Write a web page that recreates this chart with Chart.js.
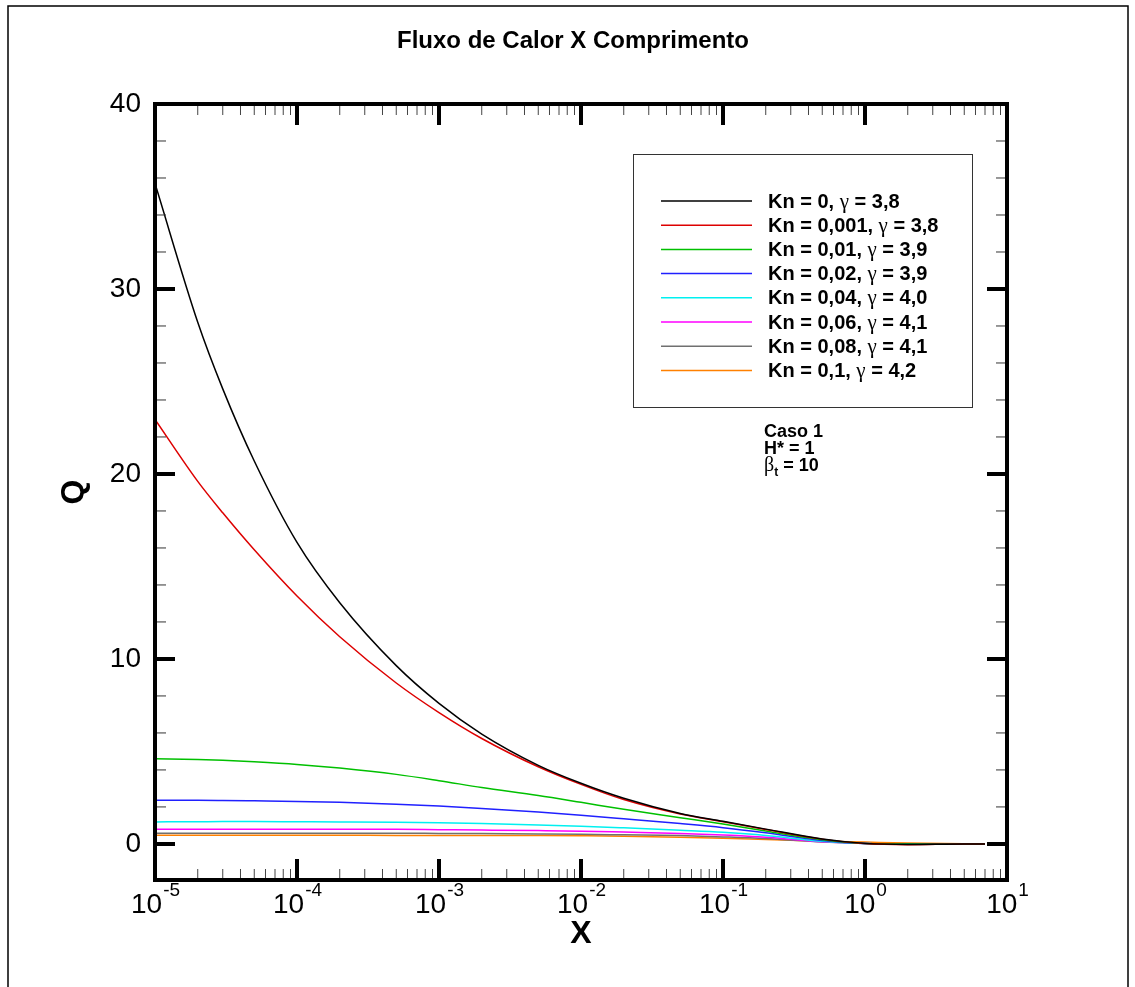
<!DOCTYPE html>
<html>
<head>
<meta charset="utf-8">
<script src="https://cdn.jsdelivr.net/npm/chart.js@4.4.1/dist/chart.umd.min.js"></script>
<style>
body{margin:0;background:#fff;}
#wrap{width:1135px;height:987px;}
</style>
</head>
<body>
<div id="wrap"><canvas id="chart" width="1135" height="987"></canvas></div>
<script>
// X positions (comprimento) where the curves were read
let xValues = [1e-5,2e-5,3e-5,5e-5,1e-4,2e-4,5e-4,1e-3,2e-3,5e-3,1e-2,2e-2,5e-2,0.1,0.2,0.5,1,2,5,7];

// Q for each Kn
let qKn0    = [35.7,28.2,24.6,20.7,16.3,13.04,9.64,7.6,5.94,4.25,3.28,2.47,1.65,1.22,0.8,0.27,0.03,-0.03,0,0];
let qKn0001 = [22.95,19.6,17.9,15.9,13.4,11.2,8.7,7.1,5.7,4.17,3.22,2.4,1.62,1.2,0.78,0.26,0.02,-0.04,0,0];
let qKn001  = [4.6,4.56,4.52,4.44,4.3,4.1,3.76,3.42,3.05,2.62,2.25,1.87,1.42,1.08,0.7,0.22,0.02,0,0,0];
let qKn002  = [2.36,2.36,2.35,2.33,2.3,2.25,2.15,2.05,1.92,1.72,1.55,1.36,1.1,0.88,0.6,0.18,0.02,0,0,0];
let qKn004  = [1.19,1.2,1.21,1.21,1.2,1.19,1.17,1.14,1.1,1.03,0.96,0.87,0.74,0.63,0.46,0.14,0.02,0,0,0];
let qKn006  = [0.79,0.79,0.8,0.8,0.8,0.8,0.79,0.77,0.75,0.72,0.69,0.64,0.57,0.48,0.36,0.12,0.02,0,0,0];
let qKn008  = [0.58,0.58,0.58,0.58,0.58,0.58,0.58,0.57,0.56,0.54,0.52,0.49,0.45,0.38,0.29,0.1,0.02,0,0,0];
let qKn01   = [0.47,0.47,0.47,0.47,0.47,0.47,0.46,0.46,0.45,0.45,0.44,0.42,0.36,0.31,0.24,0.15,0.1,0.05,0.01,0];

let seriesLabels = ['Kn = 0, γ = 3,8','Kn = 0,001, γ = 3,8','Kn = 0,01, γ = 3,9','Kn = 0,02, γ = 3,9',
  'Kn = 0,04, γ = 4,0','Kn = 0,06, γ = 4,1','Kn = 0,08, γ = 4,1','Kn = 0,1, γ = 4,2'];
let seriesData = [qKn0,qKn0001,qKn001,qKn002,qKn004,qKn006,qKn008,qKn01];
let seriesColors = ['#000000','#dd0000','#00c000','#2020ff','#00f0f0','#ff00ff','#707070','#ff8000'];

let xMajorTicks = [1e-5,1e-4,1e-3,1e-2,1e-1,1,10];
let xTickExp = ['-5','-4','-3','-2','-1','0','1'];
let yMajorTicks = [0,10,20,30,40];

let noteLines = ['Caso 1','H* = 1'];

const FONT = "'Liberation Sans', Arial, Helvetica, sans-serif";
const SYM = "'Liberation Serif', 'Times New Roman', serif";

// draws text, putting greek letters in the serif face like the Symbol font
function drawMixed(ctx, text, x, y, font, symFont){
  let cx = x;
  for(const ch of text){
    const greek = /[α-ωΑ-Ω]/.test(ch);
    ctx.font = greek ? symFont : font;
    ctx.fillText(ch, cx, y);
    cx += ctx.measureText(ch).width;
  }
  return cx;
}

const decorPlugin = {
  id: 'decor',
  afterDraw(chart){
    const ctx = chart.ctx;
    const a = chart.chartArea;
    const xs = chart.scales.x, ys = chart.scales.y;
    ctx.save();

    // page frame
    ctx.strokeStyle = '#000';
    ctx.lineWidth = 1.5;
    ctx.strokeRect(8, 6, 1120, 1100);

    // title
    ctx.fillStyle = '#000';
    ctx.font = 'bold 24px ' + FONT;
    ctx.textAlign = 'center';
    ctx.textBaseline = 'alphabetic';
    ctx.fillText('Fluxo de Calor X Comprimento', 573, 48);

    // y ticks (inward, both sides)
    for(let v = 0; v <= 40; v += 2){
      const py = ys.getPixelForValue(v);
      const major = yMajorTicks.includes(v);
      ctx.lineWidth = major ? 4 : 1;
      ctx.strokeStyle = major ? '#000' : '#333';
      const len = major ? 20 : 11;
      ctx.beginPath();
      ctx.moveTo(a.left, py); ctx.lineTo(a.left + len, py);
      ctx.moveTo(a.right, py); ctx.lineTo(a.right - len, py);
      ctx.stroke();
    }

    // x ticks (inward, top and bottom)
    for(let d = -5; d <= 1; d++){
      for(let m = 1; m <= 9; m++){
        const v = m * Math.pow(10, d);
        if(v > 10.0001) break;
        const px = xs.getPixelForValue(v);
        const major = m === 1;
        ctx.lineWidth = major ? 4 : 1;
        ctx.strokeStyle = major ? '#000' : '#444';
        const len = major ? 21 : 11;
        ctx.beginPath();
        ctx.moveTo(px, a.bottom); ctx.lineTo(px, a.bottom - len);
        ctx.moveTo(px, a.top); ctx.lineTo(px, a.top + len);
        ctx.stroke();
      }
    }

    // frame
    ctx.lineWidth = 4;
    ctx.strokeStyle = '#000';
    ctx.strokeRect(a.left, a.top, a.right - a.left, a.bottom - a.top);

    // x tick labels 10^n
    ctx.fillStyle = '#000';
    ctx.textAlign = 'left';
    ctx.textBaseline = 'alphabetic';
    xMajorTicks.forEach((v, i) => {
      const px = xs.getPixelForValue(v);
      ctx.font = '28px ' + FONT;
      const wb = ctx.measureText('10').width;
      ctx.font = '19px ' + FONT;
      const we = ctx.measureText(xTickExp[i]).width;
      const x0 = px - (wb + we) / 2;
      ctx.font = '28px ' + FONT;
      ctx.fillText('10', x0, 913);
      ctx.font = '19px ' + FONT;
      ctx.fillText(xTickExp[i], x0 + wb + 1, 896);
    });

    // legend
    ctx.lineWidth = 1;
    ctx.strokeStyle = '#333';
    ctx.strokeRect(633.5, 154.5, 339, 253);
    chart.data.datasets.forEach((ds, i) => {
      const y = 201 + i * 24.2;
      ctx.strokeStyle = ds.borderColor;
      ctx.lineWidth = 1.5;
      ctx.beginPath();
      ctx.moveTo(661, y); ctx.lineTo(752, y);
      ctx.stroke();
      ctx.textBaseline = 'middle';
      ctx.fillStyle = '#000';
      drawMixed(ctx, ds.label, 768, y + 1, 'bold 20px ' + FONT, '21px ' + SYM);
    });

    // case notes
    ctx.textBaseline = 'alphabetic';
    ctx.font = 'bold 18px ' + FONT;
    ctx.fillText(noteLines[0], 764, 437);
    ctx.fillText(noteLines[1], 764, 454);
    ctx.font = '20px ' + SYM;
    ctx.fillText('β', 764, 471);
    let bx = 764 + ctx.measureText('β').width;
    ctx.font = 'bold 12px ' + FONT;
    ctx.fillText('t', bx, 476);
    bx += ctx.measureText('t').width;
    ctx.font = 'bold 18px ' + FONT;
    ctx.fillText(' = 10', bx, 471);

    ctx.restore();
  }
};

new Chart(document.getElementById('chart'), {
  type: 'line',
  data: {
    datasets: seriesData.map((arr, i) => ({
      label: seriesLabels[i],
      data: xValues.map((x, j) => ({x: x, y: arr[j]})),
      borderColor: seriesColors[i],
      backgroundColor: seriesColors[i],
      borderWidth: 1.5,
      pointRadius: 0,
      fill: false,
      cubicInterpolationMode: 'monotone'
    }))
  },
  options: {
    responsive: false,
    animation: false,
    devicePixelRatio: 1,
    layout: { padding: { top: 104, right: 128, left: 0, bottom: 0 } },
    plugins: { legend: { display: false }, tooltip: { enabled: false }, title: { display: false } },
    scales: {
      x: {
        type: 'logarithmic',
        min: 1e-5,
        max: 10,
        grid: { display: false },
        border: { display: false },
        ticks: { display: false },
        title: { display: true, text: 'X', color: '#000', font: { family: FONT, size: 32, weight: 'bold' }, padding: { top: 0, bottom: 34 } },
        afterFit: s => { s.height = 107; }
      },
      y: {
        type: 'linear',
        min: -1.95,
        max: 40,
        grid: { display: false },
        border: { display: false },
        afterBuildTicks: s => { s.ticks = yMajorTicks.map(v => ({ value: v })); },
        ticks: { color: '#000', padding: 6, font: { family: FONT, size: 28 } },
        title: { display: true, text: 'Q', color: '#000', font: { family: FONT, size: 32, weight: 'bold' }, padding: { top: 55, bottom: 0 } },
        afterFit: s => { s.width = 155; }
      }
    }
  },
  plugins: [decorPlugin]
});
</script>
</body>
</html>
